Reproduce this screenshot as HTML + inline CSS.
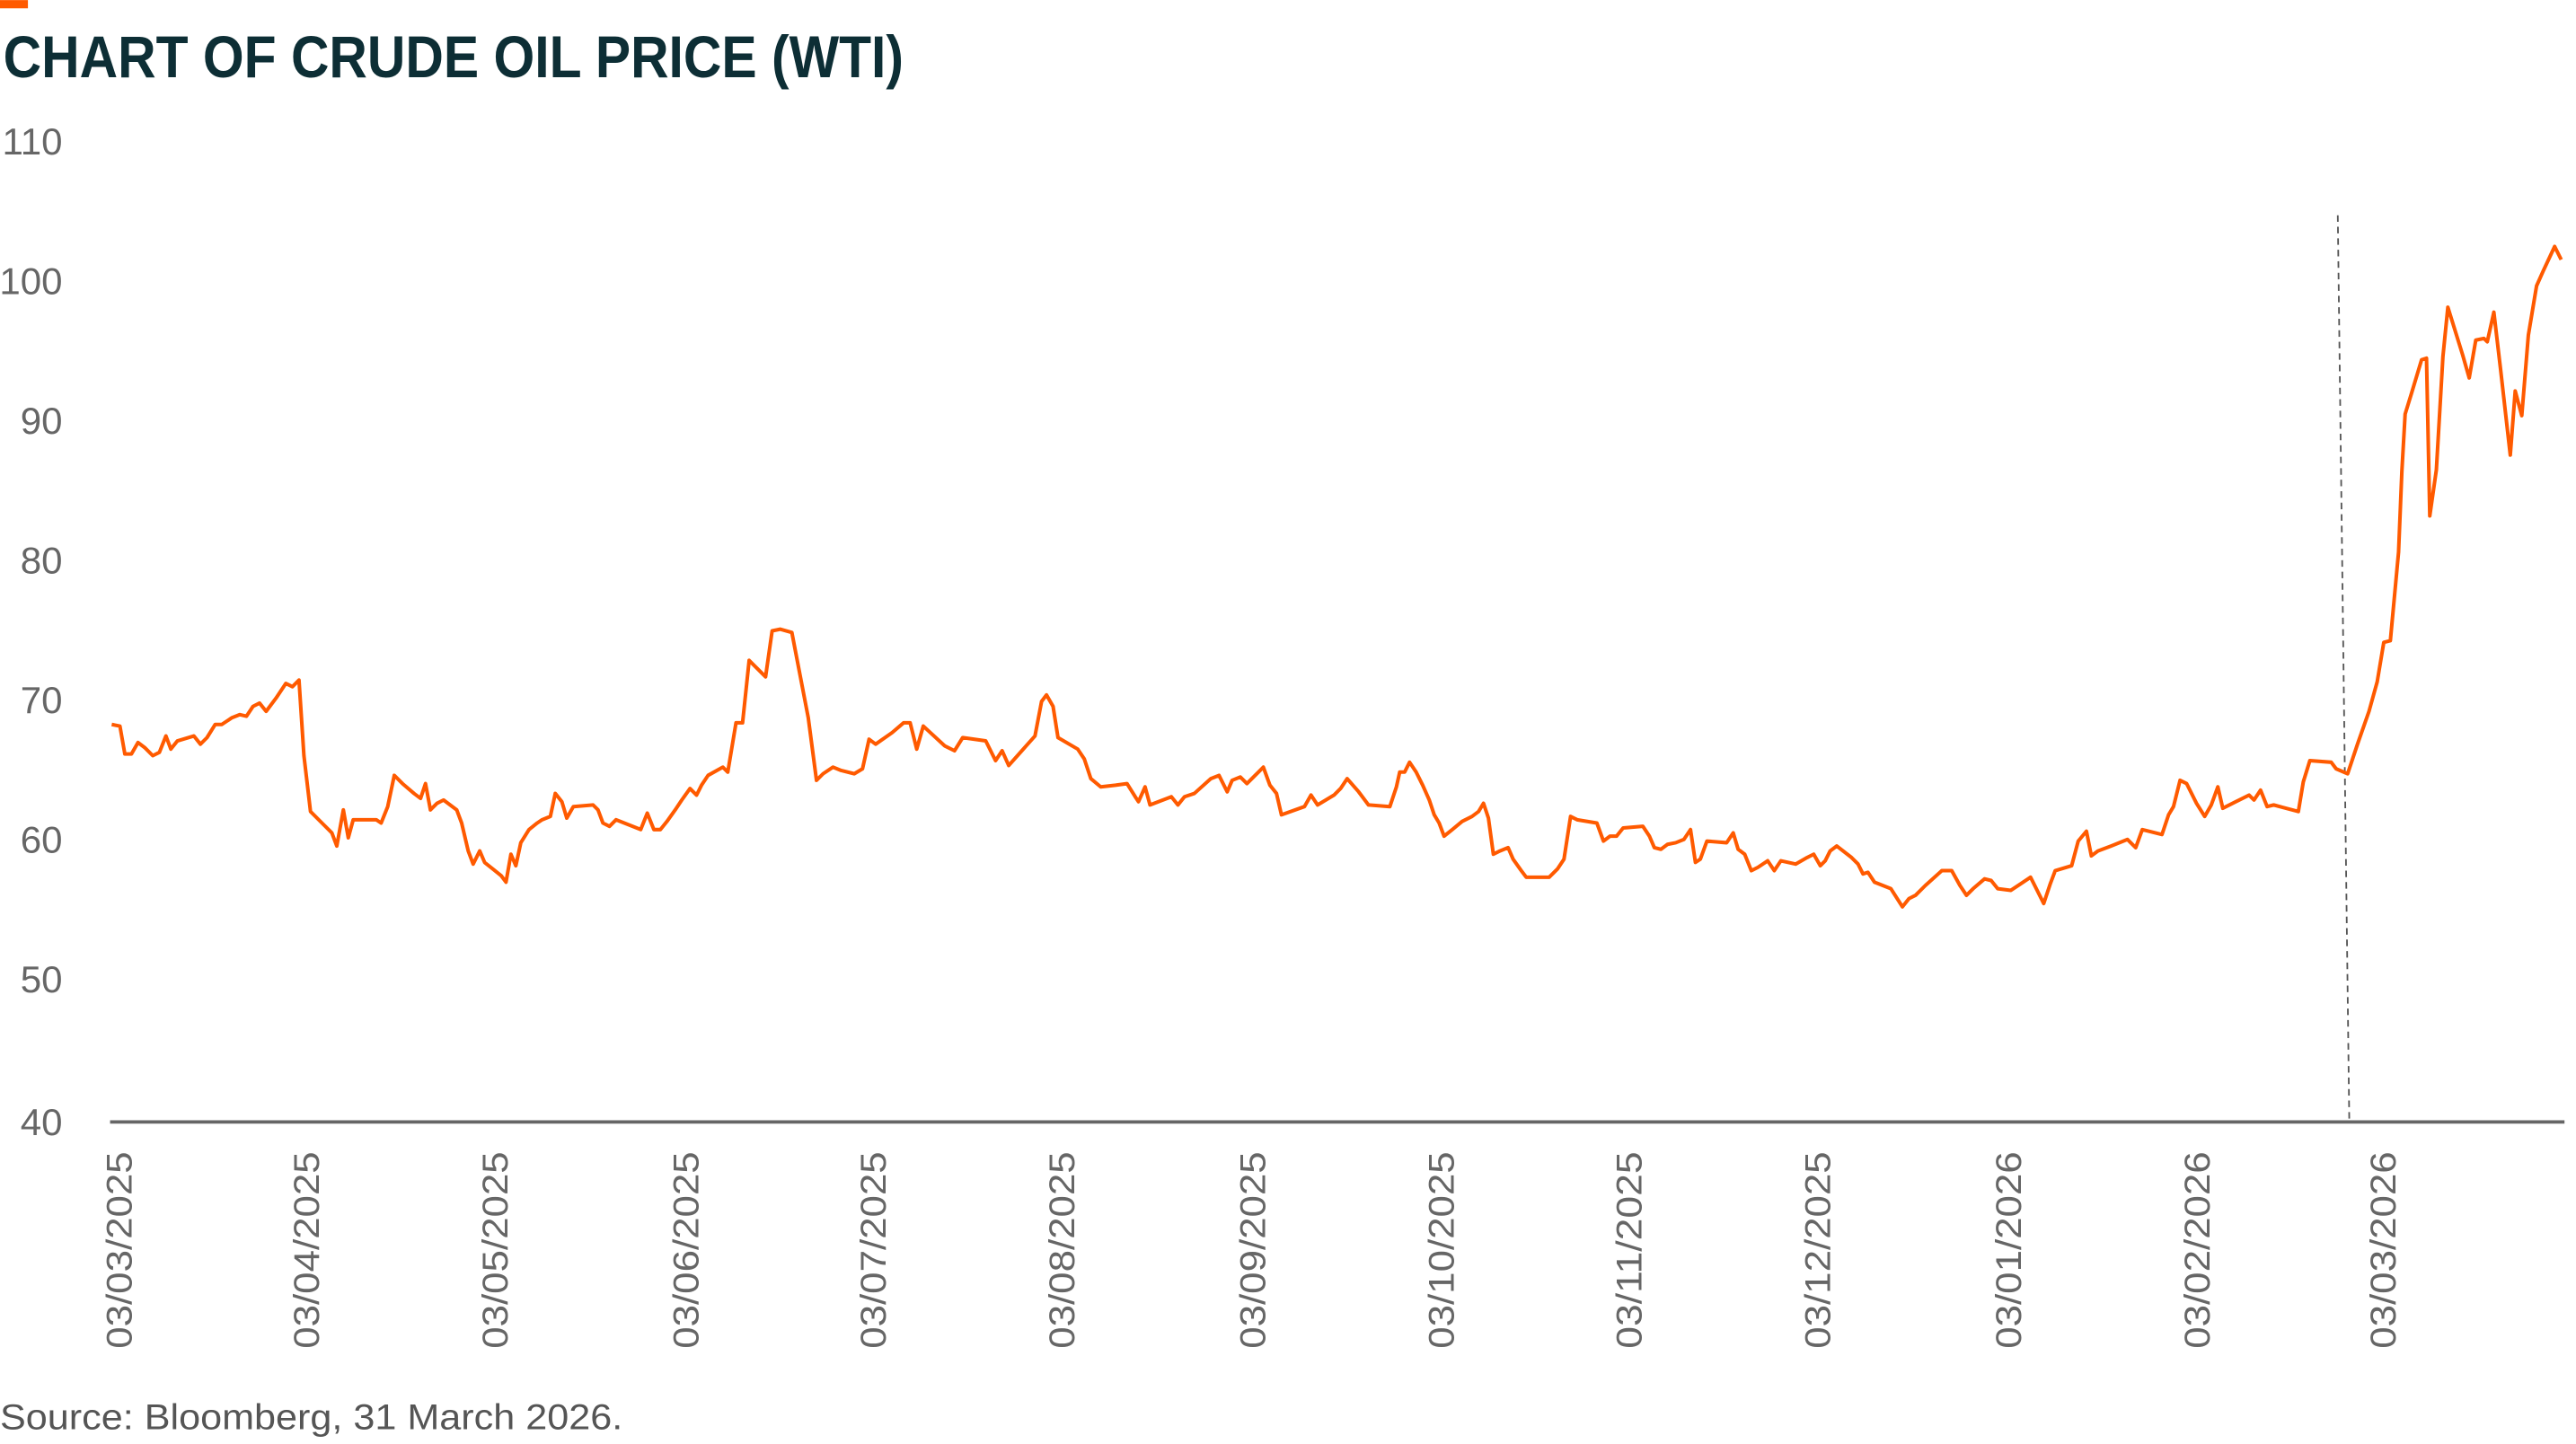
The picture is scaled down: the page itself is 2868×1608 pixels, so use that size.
<!DOCTYPE html>
<html><head><meta charset="utf-8"><style>
html,body{margin:0;padding:0;background:#fff;}
svg{display:block;}
</style></head><body>
<svg width="2868" height="1608" viewBox="0 0 1568 879" xmlns="http://www.w3.org/2000/svg">
<rect x="0" y="0" width="17" height="5" fill="#ff5a00"/>
<text x="2" y="47" font-family="Liberation Sans Narrow, Liberation Sans, sans-serif" font-weight="bold" font-size="36" fill="#0d2e35" textLength="548" lengthAdjust="spacingAndGlyphs">CHART OF CRUDE OIL PRICE (WTI)</text>
<g font-family="Liberation Sans, sans-serif" font-size="23" fill="#666" text-anchor="end">
<text x="38" y="94">110</text>
<text x="38" y="179">100</text>
<text x="38" y="264">90</text>
<text x="38" y="349">80</text>
<text x="38" y="434">70</text>
<text x="38" y="519">60</text>
<text x="38" y="604">50</text>
<text x="38" y="691">40</text>
</g>
<line x1="67" y1="683" x2="1561" y2="683" stroke="#666" stroke-width="2"/>
<g font-family="Liberation Sans, sans-serif" font-size="22" fill="#666" text-anchor="end">
<text transform="translate(80,701) rotate(-90)" textLength="120" lengthAdjust="spacingAndGlyphs">03/03/2025</text>
<text transform="translate(194,701) rotate(-90)" textLength="120" lengthAdjust="spacingAndGlyphs">03/04/2025</text>
<text transform="translate(309,701) rotate(-90)" textLength="120" lengthAdjust="spacingAndGlyphs">03/05/2025</text>
<text transform="translate(425,701) rotate(-90)" textLength="120" lengthAdjust="spacingAndGlyphs">03/06/2025</text>
<text transform="translate(539,701) rotate(-90)" textLength="120" lengthAdjust="spacingAndGlyphs">03/07/2025</text>
<text transform="translate(654,701) rotate(-90)" textLength="120" lengthAdjust="spacingAndGlyphs">03/08/2025</text>
<text transform="translate(770,701) rotate(-90)" textLength="120" lengthAdjust="spacingAndGlyphs">03/09/2025</text>
<text transform="translate(885,701) rotate(-90)" textLength="120" lengthAdjust="spacingAndGlyphs">03/10/2025</text>
<text transform="translate(999,701) rotate(-90)" textLength="120" lengthAdjust="spacingAndGlyphs">03/11/2025</text>
<text transform="translate(1114,701) rotate(-90)" textLength="120" lengthAdjust="spacingAndGlyphs">03/12/2025</text>
<text transform="translate(1230,701) rotate(-90)" textLength="120" lengthAdjust="spacingAndGlyphs">03/01/2026</text>
<text transform="translate(1345,701) rotate(-90)" textLength="120" lengthAdjust="spacingAndGlyphs">03/02/2026</text>
<text transform="translate(1458,701) rotate(-90)" textLength="120" lengthAdjust="spacingAndGlyphs">03/03/2026</text>
</g>
<line x1="1423" y1="131" x2="1430" y2="683" stroke="#555" stroke-width="1" stroke-dasharray="4,3"/>
<polyline fill="none" stroke="#ff5a00" stroke-width="2.2" stroke-linejoin="round" points="68,441 73,442 76,459 80,459 84,452 88,455 93,460 97,458 101,448 104,456 108,451 118,448 122,453 126,449 131,441 135,441 141,437 146,435 150,436 154,430 158,428 162,433 168,425 174,416 178,418 182,414 185,460 189,494 196,501 202,507 205,515 209,493 212,510 215,499 229,499 232,501 236,491 240,472 245,477 252,483 256,486 259,477 262,493 266,489 270,487 274,490 278,493 281,501 285,518 288,526 292,518 295,525 300,529 305,533 308,537 311,520 314,527 317,513 322,505 327,501 330,499 335,497 338,483 342,488 345,498 349,491 361,490 364,493 367,501 371,503 375,499 385,503 390,505 394,495 398,505 402,505 406,500 411,493 415,487 420,480 424,484 427,478 431,472 440,467 443,470 448,440 452,440 456,402 466,412 470,384 475,383 482,385 487,411 492,437 497,475 501,471 507,467 512,469 520,471 525,468 529,450 533,453 543,446 550,440 554,440 558,456 562,442 575,454 581,457 586,449 600,451 606,463 610,457 614,466 622,457 630,448 634,427 637,423 641,430 644,449 656,456 660,462 664,474 670,479 679,478 686,477 691,485 693,488 697,479 700,490 713,485 717,490 721,485 727,483 737,474 742,472 747,482 750,475 755,473 759,477 769,467 773,478 777,483 780,496 794,491 798,484 802,490 812,484 816,480 820,474 827,482 833,490 846,491 850,479 852,470 855,470 858,464 862,470 866,478 870,487 873,496 876,501 879,509 884,505 890,500 896,497 900,494 903,489 906,498 909,520 913,518 918,516 921,523 926,530 929,534 943,534 948,529 952,523 956,497 960,499 972,501 976,512 980,509 984,509 988,504 1000,503 1004,509 1007,516 1011,517 1015,514 1020,513 1025,511 1029,505 1032,525 1035,523 1039,512 1051,513 1055,507 1058,517 1062,520 1066,530 1070,528 1076,524 1080,530 1084,524 1093,526 1100,522 1104,520 1108,527 1111,524 1114,518 1118,515 1127,522 1131,526 1134,532 1137,531 1141,537 1151,541 1158,552 1162,547 1166,545 1172,539 1182,530 1188,530 1193,539 1197,545 1201,541 1208,535 1212,536 1216,541 1224,542 1230,538 1236,534 1241,544 1244,550 1248,538 1251,530 1261,527 1265,512 1270,506 1273,521 1277,518 1285,515 1295,511 1300,516 1304,505 1316,508 1320,496 1323,491 1327,475 1331,477 1337,489 1342,497 1346,490 1350,479 1353,492 1361,488 1369,484 1372,487 1376,481 1380,491 1384,490 1399,494 1402,476 1406,463 1419,464 1422,468 1429,471 1435,453 1442,433 1447,415 1451,391 1455,390 1460,336 1462,287 1464,252 1468,239 1474,219 1477,218 1479,314 1483,286 1487,217 1490,187 1499,216 1503,230 1507,207 1512,206 1514,208 1518,190 1522,224 1528,277 1531,238 1535,253 1539,204 1544,174 1548,165 1555,150 1559,158"/>
<text x="0" y="870" font-family="Liberation Sans, sans-serif" font-size="22" fill="#555" textLength="379" lengthAdjust="spacingAndGlyphs">Source: Bloomberg, 31 March 2026.</text>
</svg>
</body></html>
